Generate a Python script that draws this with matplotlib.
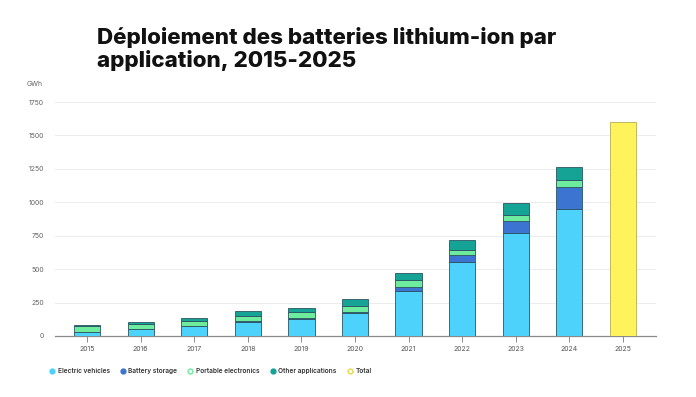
import numpy as np
import matplotlib
matplotlib.use("Agg")
import matplotlib.pyplot as plt
from matplotlib.lines import Line2D

# Data (GWh)

years = ["2015", "2016", "2017", "2018", "2019", "2020",
         "2021", "2022", "2023", "2024", "2025"]

stack_years = years[:10]
electric_vehicles = [30, 50, 72, 105, 127, 170, 337, 556, 770, 952]
battery_storage = [1, 1, 3, 8, 6, 8, 29, 47, 90, 160]
portable_electronics = [40, 35, 40, 37, 45, 49, 55, 42, 47, 57]
other_applications = [12, 20, 20, 35, 34, 47, 50, 71, 85, 95]

total_years = ["2025"]
total = [1600]

yticks = [0, 250, 500, 750, 1000, 1250, 1500, 1750]

series = [
    ("Electric vehicles", electric_vehicles, "#4dd3fb"),
    ("Battery storage", battery_storage, "#3b74d1"),
    ("Portable electronics", portable_electronics, "#6cec9c"),
    ("Other applications", other_applications, "#14a395"),
]
total_color = "#fff35c"

plt.rcParams["font.family"] = ["Inter", "DejaVu Sans"]

fig = plt.figure(figsize=(6.96, 3.97), dpi=100)
ax = fig.add_axes([0.079, 0.1537, 0.8635, 0.5893])

# Chart

bottom = np.zeros(len(stack_years))
for name, vals, color in series:
    ax.bar(stack_years, vals, bottom=bottom, width=0.49,
           color=color, edgecolor="#2b5563", linewidth=0.6, zorder=3)
    bottom += np.array(vals)

ax.bar(total_years, total, width=0.49, color=total_color,
       edgecolor="#b9ad55", linewidth=0.6, zorder=3)

ax.set_xlim(-0.6, 10.62)
ax.set_ylim(0, 1750)
ax.set_yticks(yticks)
ax.set_yticklabels([str(v) for v in yticks])

ax.grid(axis="y", color="#ececec", linewidth=0.7, zorder=0)
ax.set_axisbelow(True)
for side in ["top", "right", "left"]:
    ax.spines[side].set_visible(False)
ax.spines["bottom"].set_color("#8a8a8a")
ax.spines["bottom"].set_linewidth(0.9)

ax.tick_params(axis="y", length=0, pad=8, labelsize=5, labelcolor="#666666")
ax.tick_params(axis="x", length=4, width=0.7, color="#8a8a8a", pad=3,
               labelsize=5, labelcolor="#555555")

# Texts

fig.text(97 / 696, 1 - 44 / 397, "Déploiement des batteries lithium-ion par",
         fontsize=16.1, fontweight="heavy", color="#111111", va="baseline")
fig.text(97 / 696, 1 - 67 / 397, "application, 2015-2025",
         fontsize=16.1, fontweight="heavy", color="#111111", va="baseline")
fig.text(27 / 696, 1 - 84 / 397, "GWh", fontsize=5, color="#666666",
         va="center")

# Legend

handles = []
for name, vals, color in series:
    handles.append(Line2D([], [], marker="o", linestyle="", markersize=3.5,
                          markerfacecolor=color, markeredgecolor=color,
                          label=name))
handles.append(Line2D([], [], marker="o", linestyle="", markersize=3.5,
                      markerfacecolor="white", markeredgecolor="#e6d84a",
                      markeredgewidth=1, label="Total"))
handles[2].set_markerfacecolor("white")
handles[2].set_markeredgewidth(1)

leg = fig.legend(handles=handles, loc="center left",
                 bbox_to_anchor=(43 / 696, 1 - 371 / 397), ncol=5,
                 frameon=False, fontsize=4.7, handletextpad=0.35,
                 columnspacing=1.5, handlelength=1)
for t in leg.get_texts():
    t.set_color("#333333")
    t.set_fontweight("semibold")

fig.savefig("out.png", dpi=100)
